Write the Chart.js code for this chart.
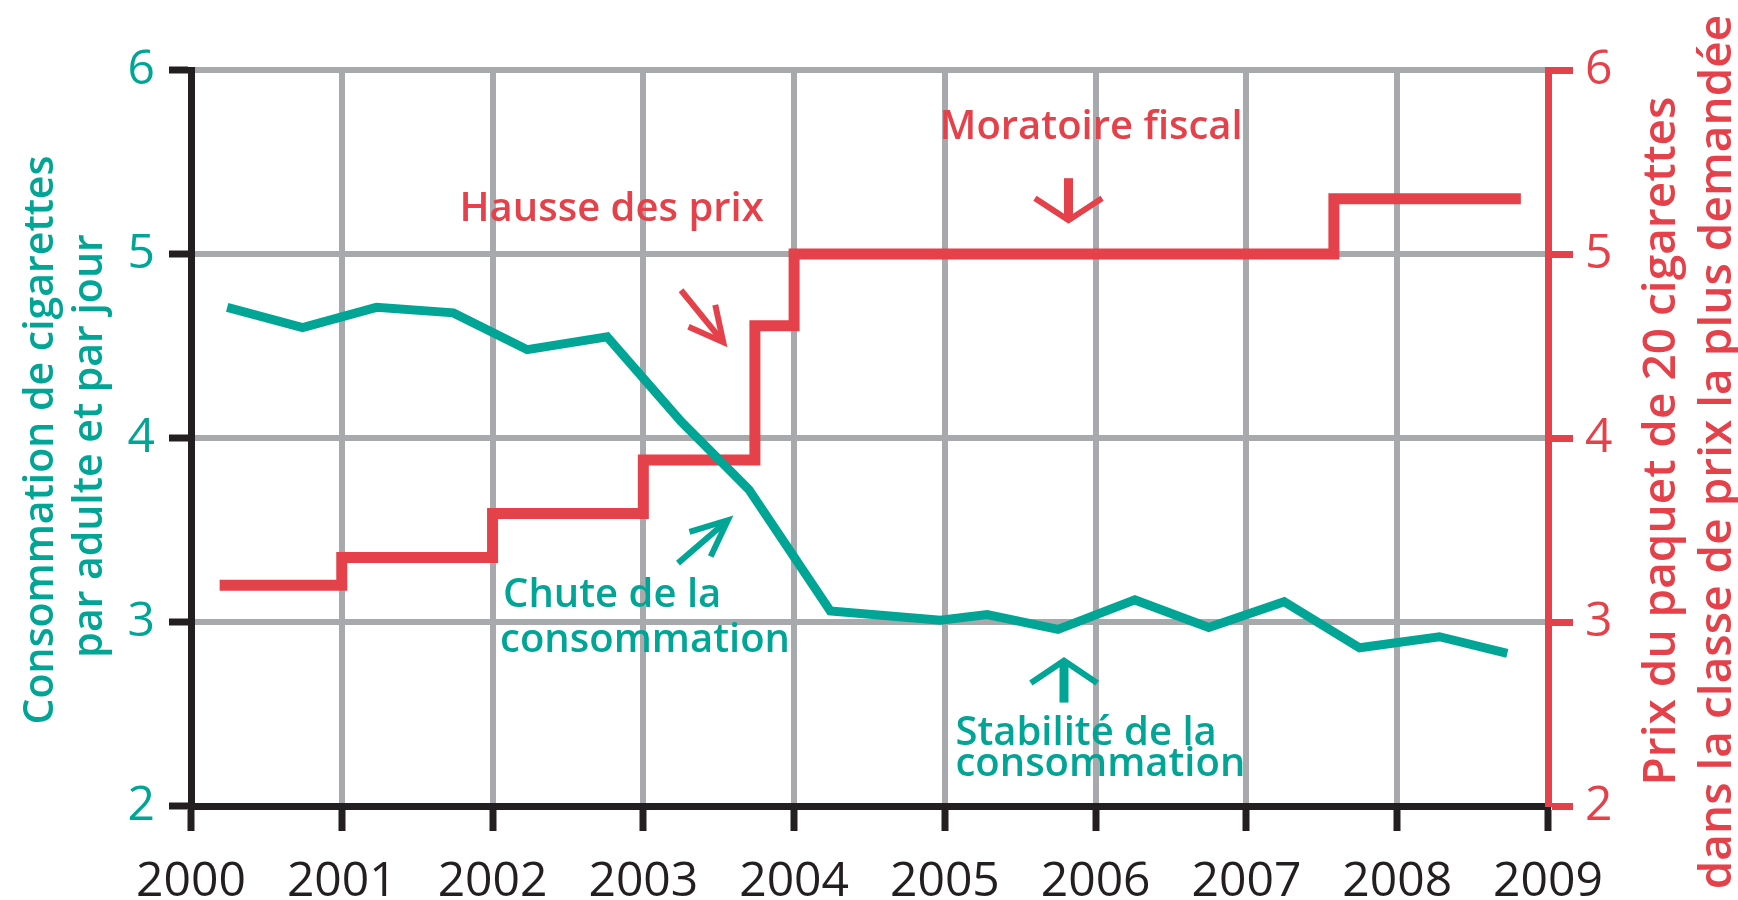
<!DOCTYPE html>
<html>
<head>
<meta charset="utf-8">
<script src="https://cdn.jsdelivr.net/npm/chart.js@4.4.1/dist/chart.umd.min.js"></script>
<style>
  html, body { margin: 0; padding: 0; background: #ffffff; }
  #wrap { width: 1738px; height: 900px; }
</style>
</head>
<body>
<div id="wrap"><canvas id="tabacChart" width="1738" height="900"></canvas></div>
<script>
// consommation de cigarettes par adulte et par jour (relevés semestriels)
const consoYears = [2000.24, 2000.74, 2001.23, 2001.74, 2002.23, 2002.76, 2003.25, 2003.7, 2004.24,
  2004.97, 2005.28, 2005.75, 2006.26, 2006.75, 2007.25, 2007.75, 2008.28, 2008.73];
const consoValues = [4.71, 4.60, 4.71, 4.68, 4.48, 4.55, 4.09, 3.72, 3.06,
  3.01, 3.04, 2.96, 3.12, 2.97, 3.11, 2.86, 2.92, 2.83];

// prix du paquet de 20 (classe la plus demandée), dates des hausses
const prixYears = [2000.19, 2001, 2002, 2003, 2003.74, 2004, 2007.58, 2008.82];
const prixValues = [3.20, 3.35, 3.59, 3.88, 4.61, 5.00, 5.30, 5.30];

const yearTicks = [2000, 2001, 2002, 2003, 2004, 2005, 2006, 2007, 2008, 2009];
const valueTicks = [2, 3, 4, 5, 6];

const TEAL = '#00a596';
const RED = '#e5414a';
const GRID = '#a7a9ac';
const INK = '#231f20';
const FONT = '"Open Sans", "Noto Sans", sans-serif';

// texts and arrows placed in data units
const notes = [
  { text: 'Hausse des prix', x: 2002.79, y: 5.178, align: 'center', color: RED },
  { text: 'Moratoire fiscal', x: 2005.97, y: 5.624, align: 'center', color: RED },
  { text: 'Chute de la', x: 2002.07, y: 3.081, align: 'left', color: TEAL },
  { text: 'consommation', x: 2002.05, y: 2.836, align: 'left', color: TEAL },
  { text: 'Stabilité de la', x: 2005.07, y: 2.330, align: 'left', color: TEAL },
  { text: 'consommation', x: 2005.07, y: 2.162, align: 'left', color: TEAL }
];
const arrows = [
  { from: [2005.82, 5.412], to: [2005.82, 5.184], wing: 40, angle: 57, color: RED, shaft: 9 },
  { from: [2003.25, 4.803], to: [2003.53, 4.521], wing: 38, angle: 27, color: RED, shaft: 6 },
  { from: [2003.23, 3.320], to: [2003.56, 3.553], wing: 40, angle: 24, color: TEAL, shaft: 6 },
  { from: [2005.79, 2.562], to: [2005.79, 2.790], wing: 40, angle: 56, color: TEAL, shaft: 9 }
];

function drawArrow(ctx, x0, y0, x1, y1, a) {
  const ang = Math.atan2(y1 - y0, x1 - x0);
  const w = a.angle * Math.PI / 180;
  ctx.strokeStyle = a.color;
  ctx.lineCap = 'butt';
  ctx.lineWidth = a.shaft;
  ctx.beginPath();
  ctx.moveTo(x0, y0);
  ctx.lineTo(x1, y1);
  ctx.stroke();
  ctx.lineWidth = 6;
  ctx.lineJoin = 'miter';
  ctx.beginPath();
  ctx.moveTo(x1 - a.wing * Math.cos(ang - w), y1 - a.wing * Math.sin(ang - w));
  ctx.lineTo(x1, y1);
  ctx.lineTo(x1 - a.wing * Math.cos(ang + w), y1 - a.wing * Math.sin(ang + w));
  ctx.stroke();
}

function drawUpText(ctx, text, xBase, yMid, font, color) {
  ctx.save();
  ctx.translate(xBase, yMid);
  ctx.rotate(-Math.PI / 2);
  ctx.font = font;
  ctx.fillStyle = color;
  ctx.textAlign = 'center';
  ctx.textBaseline = 'alphabetic';
  ctx.fillText(text, 0, 0);
  ctx.restore();
}

const notesPlugin = {
  id: 'notes',
  afterDatasetsDraw(chart) {
    const { ctx, scales: { x, y } } = chart;
    ctx.save();
    ctx.font = '600 40px ' + FONT;
    ctx.textBaseline = 'alphabetic';
    notes.forEach(n => {
      ctx.fillStyle = n.color;
      ctx.textAlign = n.align;
      ctx.fillText(n.text, x.getPixelForValue(n.x), y.getPixelForValue(n.y));
    });
    arrows.forEach(a => {
      drawArrow(ctx,
        x.getPixelForValue(a.from[0]), y.getPixelForValue(a.from[1]),
        x.getPixelForValue(a.to[0]), y.getPixelForValue(a.to[1]), a);
    });
    ctx.restore();
  },
  afterDraw(chart) {
    const { ctx } = chart;
    // axis titles, reading bottom to top on both sides
    drawUpText(ctx, 'Consommation de cigarettes', 53, 440, '600 41px ' + FONT, TEAL);
    drawUpText(ctx, 'par adulte et par jour', 102, 446, '600 41px ' + FONT, TEAL);
    drawUpText(ctx, 'Prix du paquet de 20 cigarettes', 1675, 441, '600 46px ' + FONT, RED);
    drawUpText(ctx, 'dans la classe de prix la plus demandée', 1731, 452, '600 46px ' + FONT, RED);
  }
};

const forceTicks = list => scale => { scale.ticks = list.map(v => ({ value: v })); };

const ctx = document.getElementById('tabacChart').getContext('2d');
new Chart(ctx, {
  type: 'line',
  data: {
    datasets: [
      {
        label: 'Consommation',
        data: consoYears.map((yr, i) => ({ x: yr, y: consoValues[i] })),
        borderColor: TEAL,
        borderWidth: 9,
        borderJoinStyle: 'miter',
        pointRadius: 0,
        tension: 0,
        yAxisID: 'y'
      },
      {
        label: 'Prix',
        data: prixYears.map((yr, i) => ({ x: yr, y: prixValues[i] })),
        borderColor: RED,
        borderWidth: 11,
        borderJoinStyle: 'miter',
        stepped: true,
        pointRadius: 0,
        yAxisID: 'y2'
      }
    ]
  },
  options: {
    responsive: false,
    animation: false,
    layout: { padding: { top: 70, left: 0, right: 0, bottom: 0 } },
    plugins: { legend: { display: false }, tooltip: { enabled: false } },
    scales: {
      x: {
        type: 'linear',
        min: 2000,
        max: 2009,
        afterBuildTicks: forceTicks(yearTicks),
        afterFit(scale) { scale.height = 94; },
        grid: { color: GRID, lineWidth: 6, tickColor: INK, tickWidth: 7, tickLength: 25 },
        border: { color: INK, width: 7 },
        ticks: {
          color: INK, padding: 23, autoSkip: false, maxRotation: 0,
          font: { family: FONT, size: 48 },
          callback: v => String(v)
        }
      },
      y: {
        position: 'left',
        min: 2,
        max: 6,
        afterBuildTicks: forceTicks(valueTicks),
        afterFit(scale) { scale.width = 191; },
        grid: { color: GRID, lineWidth: 6, tickColor: INK, tickWidth: 7, tickLength: 22 },
        border: { color: INK, width: 7 },
        ticks: { color: TEAL, padding: 14, font: { family: FONT, size: 48 }, callback: v => String(v) }
      },
      y2: {
        position: 'right',
        min: 2,
        max: 6,
        afterBuildTicks: forceTicks(valueTicks),
        afterFit(scale) { scale.width = 190; },
        grid: { drawOnChartArea: false, color: RED, tickColor: RED, tickWidth: 7, tickLength: 25 },
        border: { color: RED, width: 7 },
        ticks: { color: RED, padding: 12, font: { family: FONT, size: 48 }, callback: v => String(v) }
      }
    }
  },
  plugins: [notesPlugin]
});
</script>
</body>
</html>
